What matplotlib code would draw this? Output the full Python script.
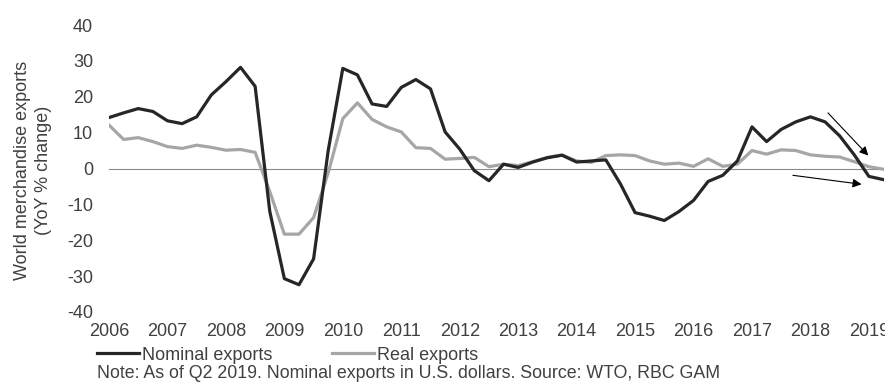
import numpy as np
import matplotlib
matplotlib.use("Agg")
import matplotlib.pyplot as plt
from matplotlib.lines import Line2D

plt.rcParams['font.family'] = ['Liberation Sans', 'DejaVu Sans']

# Quarterly YoY % change, Q1 2006 .. Q2 2019
years = [str(y) for y in range(2006, 2020)]
nominal = [14.2, 15.5, 16.7, 15.9, 13.3, 12.5, 14.4, 20.5, 24.2, 28.2, 22.9, -11.9,
           -30.7, -32.4, -25.2, 5.0, 27.9, 26.1, 18.0, 17.3, 22.6, 24.8, 22.2, 10.2,
           5.4, -0.6, -3.4, 1.2, 0.3, 1.8, 3.0, 3.7, 1.8, 2.1, 2.4, -4.3,
           -12.3, -13.3, -14.5, -12.0, -8.9, -3.6, -1.9, 2.1, 11.6, 7.5, 10.9, 13.0,
           14.4, 13.0, 9.1, 3.8, -2.2, -3.1]
real = [12.1, 8.1, 8.6, 7.5, 6.1, 5.6, 6.5, 5.9, 5.1, 5.3, 4.5, -6.4,
        -18.3, -18.3, -13.7, -1.2, 13.9, 18.3, 13.7, 11.6, 10.2, 5.8, 5.6, 2.6,
        2.8, 3.1, 0.5, 1.2, 0.8, 1.9, 3.1, 3.8, 2.1, 1.7, 3.6, 3.8,
        3.6, 2.1, 1.2, 1.5, 0.6, 2.7, 0.6, 1.2, 5.0, 4.0, 5.2, 5.0,
        3.8, 3.4, 3.2, 1.9, 0.5, -0.2]
yticks = [-40, -30, -20, -10, 0, 10, 20, 30, 40]
note = "Note: As of Q2 2019. Nominal exports in U.S. dollars. Source: WTO, RBC GAM"

TEXT = '#404040'
DARK = '#262626'
GREY = '#a6a6a6'

W, H = 885, 388
fig = plt.figure(figsize=(W / 100, H / 100), dpi=100)
ax = fig.add_axes([109 / W, 1 - 312 / H, (883.5 - 109) / W, (312 - 25) / H])

x = np.arange(len(nominal))
ax.plot(x, nominal, color=DARK, lw=2.3, solid_joinstyle='round', zorder=3)
ax.plot(x, real, color=GREY, lw=2.3, solid_joinstyle='round', zorder=2)
ax.axhline(0, color='#8c8c8c', lw=0.8, zorder=1)

ax.set_xlim(0, len(nominal) - 1)
ax.set_ylim(-40, 40)
ax.set_yticks(yticks)
ax.set_yticklabels([str(v) for v in yticks])
ax.set_xticks(np.arange(0, len(nominal), 4))
ax.set_xticklabels(years)
ax.tick_params(axis='both', length=0, labelsize=13, colors=TEXT)
ax.tick_params(axis='y', pad=11.5)
ax.tick_params(axis='x', pad=8)
for s in ax.spines.values():
    s.set_visible(False)

fig.text(33 / W, 1 - 170 / H, "World merchandise exports\n(YoY % change)",
         rotation=90, ha='center', va='center', fontsize=13, color=TEXT,
         linespacing=1.35)

# Trend arrows near the end of the series
ax.annotate("", xy=(51.96, 3.6), xytext=(49.2, 15.5),
            arrowprops=dict(arrowstyle='-|>', color='black', lw=0.8,
                            mutation_scale=13, shrinkA=0, shrinkB=0))
ax.annotate("", xy=(51.5, -4.4), xytext=(46.8, -1.9),
            arrowprops=dict(arrowstyle='-|>', color='black', lw=0.8,
                            mutation_scale=13, shrinkA=0, shrinkB=0))

handles = [Line2D([], [], color=DARK, lw=2.3), Line2D([], [], color=GREY, lw=2.3)]
fig.legend(handles, ["Nominal exports", "Real exports"], loc='center left',
           bbox_to_anchor=(97 / W, 1 - 355 / H), ncol=2, frameon=False,
           fontsize=13, labelcolor=TEXT, handlelength=2.3, handletextpad=0.2,
           columnspacing=3.3, borderpad=0, borderaxespad=0)

fig.text(97 / W, 1 - 374 / H, note, ha='left', va='center', fontsize=12.8, color=TEXT)

fig.savefig("out.png", dpi=100)
